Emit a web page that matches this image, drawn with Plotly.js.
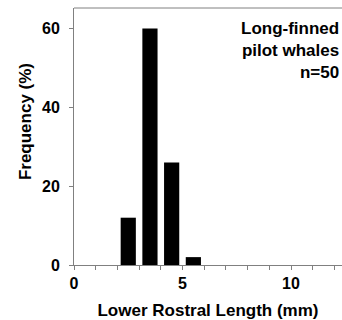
<!DOCTYPE html>
<html><head><meta charset="utf-8">
<script src="https://cdn.plot.ly/plotly-3.0.1.min.js"></script>
<style>html,body{margin:0;padding:0;background:#fff;overflow:hidden;}#chart{width:342px;height:320px;}</style>
</head><body><div id="chart"></div>
<script>
const binCenters = [2.5, 3.5, 4.5, 5.5];
const frequencyPct = [12, 60, 26, 2];
const annotationLines = ["Long-finned", "pilot whales", "n=50"];
const xTitle = "Lower Rostral Length (mm)";
const yTitle = "Frequency (%)";

const font = "Liberation Sans, Arial, sans-serif";
const axisColor = "#808080";

Plotly.newPlot("chart", [{
  type: "bar",
  x: binCenters,
  y: frequencyPct,
  width: 0.7,
  marker: {color: "#000", line: {width: 0}},
  hoverinfo: "none"
}], {
  width: 342, height: 320,
  margin: {l: 74, r: 0, t: 8, b: 55, pad: 0},
  paper_bgcolor: "#fff", plot_bgcolor: "#fff",
  showlegend: false,
  font: {family: font, color: "#000", size: 14, weight: "bold"},
  xaxis: {
    range: [0, 12.35], tickvals: [0, 5, 10], ticks: "outside", ticklen: 4, tickcolor: axisColor,
    minor: {dtick: 1, tick0: 0, ticks: "outside", ticklen: 4, tickcolor: axisColor},
    showline: true, linecolor: axisColor, linewidth: 1, mirror: false,
    showgrid: false, zeroline: false,
    tickfont: {family: font, size: 16, weight: "bold", color: "#000"},
    title: {text: xTitle, font: {family: font, size: 17, weight: "bold", color: "#000"}, standoff: 13}
  },
  yaxis: {
    range: [0, 65.2], tickvals: [0, 20, 40, 60], ticks: "outside", ticklen: 4, tickcolor: axisColor,
    ticklabelstandoff: 6,
    showline: true, linecolor: axisColor, linewidth: 1,
    showgrid: false, zeroline: false,
    tickfont: {family: font, size: 16, weight: "bold", color: "#000"}
  },
  shapes: [{
    type: "line", xref: "paper", yref: "paper", x0: 0, x1: 1, y0: 1, y1: 1,
    line: {color: axisColor, width: 1}
  }],
  annotations: [{
    xref: "paper", yref: "paper", x: 1, y: 1, xshift: -1, yshift: -9,
    xanchor: "right", yanchor: "top", align: "right", showarrow: false,
    text: annotationLines.join("<br>"),
    font: {family: font, size: 17, weight: "bold", color: "#000"}
  }, {
    xref: "paper", yref: "paper", x: 0, y: 0.556, xshift: -49, xanchor: "center", yanchor: "middle",
    textangle: -90, showarrow: false, text: yTitle,
    font: {family: font, size: 17, weight: "bold", color: "#000"}
  }]
}, {staticPlot: true});
</script>
</body></html>
